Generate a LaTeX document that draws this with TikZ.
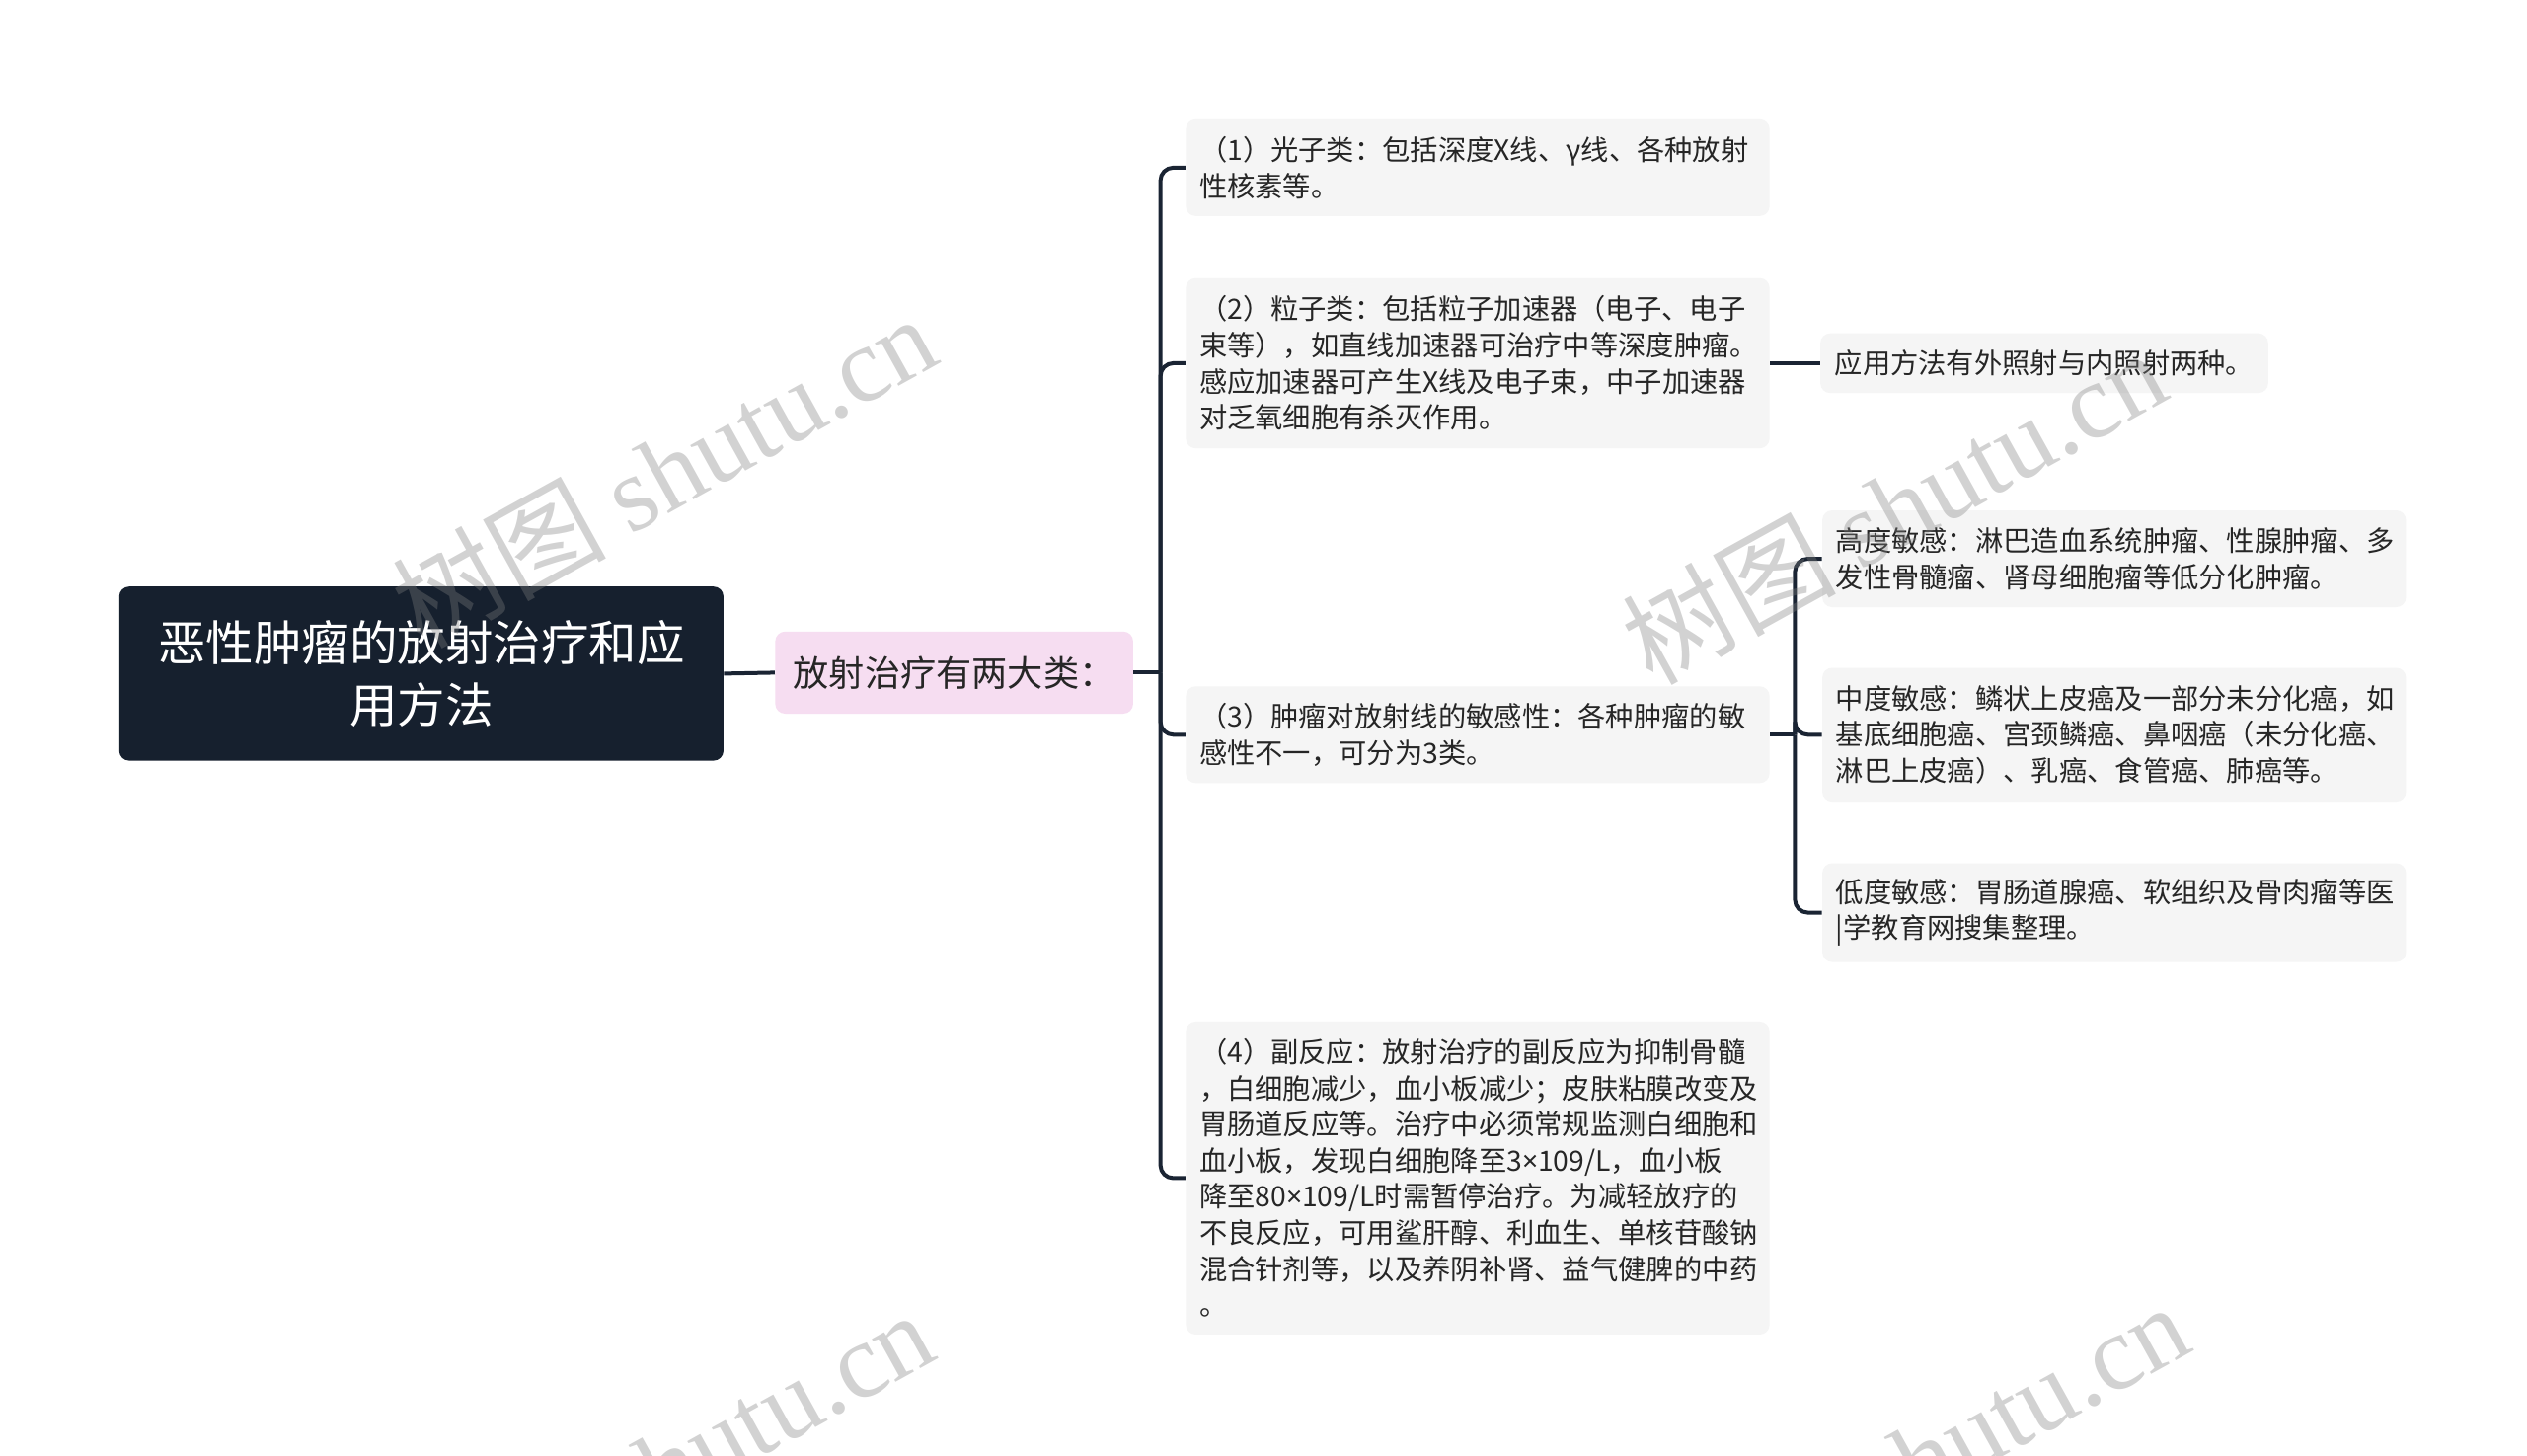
\documentclass[tikz,border=0pt]{standalone}
\usepackage{fontspec}
\setmainfont{Noto Sans CJK SC}
\newfontfamily\wmserif{Liberation Serif}
\newfontfamily\latinfont{Noto Sans}
\newcommand{\tms}{{\latinfont ×}}
\definecolor{rootc}{HTML}{16202E}
\definecolor{pinkc}{HTML}{F6DDF1}
\definecolor{boxc}{HTML}{F5F5F5}
\definecolor{linec}{HTML}{1A2433}
\definecolor{txtc}{HTML}{262626}
\tikzset{
  conn/.style={draw=linec, line width=2pt, rounded corners=6.5pt},
  rootbox/.style={fill=rootc, rounded corners=5pt, text=white, align=center,
    minimum width=306.1pt, minimum height=88.2pt, inner sep=0pt,
    font=\fontsize{24.25}{31.1}\selectfont},
  firstbox/.style={fill=pinkc, rounded corners=5pt, text=txtc,
    minimum width=181.3pt, minimum height=41.6pt, inner sep=0pt,
    font=\fontsize{18.1}{22}\selectfont},
  textbox/.style={fill=boxc, rounded corners=5pt, text=txtc, align=left,
    text width=282pt, inner xsep=6.85pt, inner ysep=0pt,
    font=\fontsize{14.15}{18.29}\selectfont},
  leafbox/.style={fill=boxc, rounded corners=5pt, text=txtc,
    minimum width=224.8pt, minimum height=30.2pt, inner xsep=7.3pt, inner ysep=0pt,
    font=\fontsize{14.15}{18.29}\selectfont},
  wm/.style={text=gray, opacity=0.35, rotate=29, inner sep=0pt,
    font=\fontsize{54}{54}\selectfont}
}
\begin{document}
\begin{tikzpicture}[x=0.49525pt, y=-0.49525pt]
\useasboundingbox[fill=white] (0,0) rectangle (2584.8,1489.2);

\node[rootbox] (root) at (431,689) {恶性肿瘤的放射治疗和应\\用方法};
\node[firstbox] (l1) at (976,688) {放射治疗有两大类：};

\node[textbox, minimum height=49pt] (c1) at (1511.5,171.5)
  {（1）光子类：包括深度X线、γ线、各种放射\\性核素等。};
\node[textbox, minimum height=86.2pt] (c2) at (1511.5,371.5)
  {（2）粒子类：包括粒子加速器（电子、电子\\束等），如直线加速器可治疗中等深度肿瘤。\\感应加速器可产生X线及电子束，中子加速器\\对乏氧细胞有杀灭作用。};
\node[textbox, minimum height=49pt] (c3) at (1511.5,751.5)
  {（3）肿瘤对放射线的敏感性：各种肿瘤的敏\\感性不一，可分为3类。};
\node[textbox, minimum height=158.5pt] (c4) at (1511.5,1205)
  {（4）副反应：放射治疗的副反应为抑制骨髓\\，白细胞减少，血小板减少；皮肤粘膜改变及\\胃肠道反应等。治疗中必须常规监测白细胞和\\血小板，发现白细胞降至3\tms109/L，血小板\\降至80\tms109/L时需暂停治疗。为减轻放疗的\\不良反应，可用鲨肝醇、利血生、单核苷酸钠\\混合针剂等，以及养阴补肾、益气健脾的中药\\。};

\node[leafbox] (leaf) at (2091,371.5) {应用方法有外照射与内照射两种。};

\node[textbox, minimum height=49pt] (g1) at (2162.5,571.5)
  {高度敏感：淋巴造血系统肿瘤、性腺肿瘤、多\\发性骨髓瘤、肾母细胞瘤等低分化肿瘤。};
\node[textbox, minimum height=67.8pt] (g2) at (2162.5,751.5)
  {中度敏感：鳞状上皮癌及一部分未分化癌，如\\基底细胞癌、宫颈鳞癌、鼻咽癌（未分化癌、\\淋巴上皮癌）、乳癌、食管癌、肺癌等。};
\node[textbox, minimum height=50pt] (g3) at (2162.5,933.5)
  {低度敏感：胃肠道腺癌、软组织及骨肉瘤等医\\|学教育网搜集整理。};

\coordinate (b1) at (1187,688);
\coordinate (b2) at (1836,751.5);

\draw[conn] (root.east) -- (l1.west);
\draw[conn] (l1.east) -- (b1);
\foreach \c in {c1,c2,c3,c4} \draw[conn] (b1) |- (\c.west);
\draw[conn] (c2.east) -- (leaf.west);
\draw[conn] (c3.east) -- (b2);
\foreach \g in {g1,g2,g3} \draw[conn] (b2) |- (\g.west);

\begin{scope}
\clip (0,0) rectangle (2584.8,1489.2);
\node[wm] (wm1) at (679,481) {树图 {\wmserif shutu.cn}};
\node[wm] (wm2) at (1937,518) {树图 {\wmserif shutu.cn}};
\node[wm] (wm3) at (676,1500) {树图 {\wmserif shutu.cn}};
\node[wm] (wm4) at (1960,1492) {树图 {\wmserif shutu.cn}};
\end{scope}
\end{tikzpicture}
\end{document}
